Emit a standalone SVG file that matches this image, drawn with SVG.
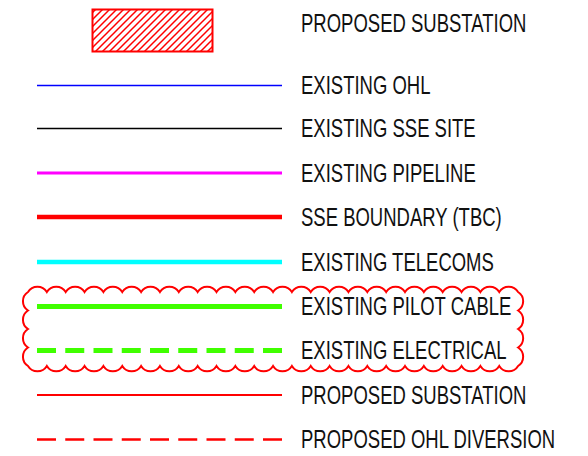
<svg xmlns="http://www.w3.org/2000/svg" width="588" height="456" viewBox="0 0 588 456">
<style>
text{font-family:"Liberation Sans",Arial,sans-serif;font-size:25px;fill:#111}
.ln{fill:none}
</style>
<defs>
<pattern id="hatch" patternUnits="userSpaceOnUse" width="7" height="7">
<path d="M0,7 L7,0 M-1.75,1.75 L1.75,-1.75 M5.25,8.75 L8.75,5.25" stroke="#ff0000" stroke-width="1.5"/>
</pattern>
</defs>
<rect width="588" height="456" fill="#fff"/>
<g id="proposed-substation-area">
<rect x="92.5" y="9.5" width="120" height="42" fill="url(#hatch)" stroke="#ff0000" stroke-width="2"/>
</g>
<g id="connectors">
<line class="ln" x1="37" y1="85.5" x2="282" y2="85.5" stroke="#0000ff" stroke-width="1.5"/>
<line class="ln" x1="37" y1="128.5" x2="282" y2="128.5" stroke="#000" stroke-width="1.5"/>
<line class="ln" x1="37" y1="173" x2="282" y2="173" stroke="#ff00ff" stroke-width="3"/>
<line class="ln" x1="37" y1="217" x2="282" y2="217" stroke="#ff0000" stroke-width="4.5"/>
<line class="ln" x1="37" y1="262" x2="282" y2="262" stroke="#00ffff" stroke-width="4.5"/>
<line class="ln" x1="37" y1="306.5" x2="282" y2="306.5" stroke="#40ff00" stroke-width="5"/>
<line class="ln" x1="37" y1="350.5" x2="282" y2="350.5" stroke="#40ff00" stroke-width="5" stroke-dasharray="19 9.25"/>
<line class="ln" x1="37" y1="395" x2="282" y2="395" stroke="#ff0000" stroke-width="2"/>
<line class="ln" x1="37" y1="439.5" x2="282" y2="439.5" stroke="#ff0000" stroke-width="2.5" stroke-dasharray="19 9.25"/>
</g>
<g id="revision-cloud">
<path class="ln" stroke="#ff0000" stroke-width="2" d="M28,292
a11,11 0 0 1 18.85,0 a11,11 0 0 1 18.85,0 a11,11 0 0 1 18.85,0 a11,11 0 0 1 18.85,0 a11,11 0 0 1 18.85,0 a11,11 0 0 1 18.85,0 a11,11 0 0 1 18.85,0 a11,11 0 0 1 18.85,0 a11,11 0 0 1 18.85,0 a11,11 0 0 1 18.85,0 a11,11 0 0 1 18.85,0 a11,11 0 0 1 18.85,0 a11,11 0 0 1 18.85,0 a11,11 0 0 1 18.85,0 a11,11 0 0 1 18.85,0 a11,11 0 0 1 18.85,0 a11,11 0 0 1 18.85,0 a11,11 0 0 1 18.85,0 a11,11 0 0 1 18.85,0 a11,11 0 0 1 18.85,0 a11,11 0 0 1 18.85,0 a11,11 0 0 1 18.85,0 a11,11 0 0 1 18.85,0 a11,11 0 0 1 18.85,0 a11,11 0 0 1 18.85,0 a11,11 0 0 1 18.85,0
a11,11 0 0 1 0,18.5 a11,11 0 0 1 0,18.5 a11,11 0 0 1 0,18.5 a11,11 0 0 1 0,18.5
a11,11 0 0 1 -18.85,0 a11,11 0 0 1 -18.85,0 a11,11 0 0 1 -18.85,0 a11,11 0 0 1 -18.85,0 a11,11 0 0 1 -18.85,0 a11,11 0 0 1 -18.85,0 a11,11 0 0 1 -18.85,0 a11,11 0 0 1 -18.85,0 a11,11 0 0 1 -18.85,0 a11,11 0 0 1 -18.85,0 a11,11 0 0 1 -18.85,0 a11,11 0 0 1 -18.85,0 a11,11 0 0 1 -18.85,0 a11,11 0 0 1 -18.85,0 a11,11 0 0 1 -18.85,0 a11,11 0 0 1 -18.85,0 a11,11 0 0 1 -18.85,0 a11,11 0 0 1 -18.85,0 a11,11 0 0 1 -18.85,0 a11,11 0 0 1 -18.85,0 a11,11 0 0 1 -18.85,0 a11,11 0 0 1 -18.85,0 a11,11 0 0 1 -18.85,0 a11,11 0 0 1 -18.85,0 a11,11 0 0 1 -18.85,0 a11,11 0 0 1 -18.85,0
a11,11 0 0 1 0,-18.5 a11,11 0 0 1 0,-18.5 a11,11 0 0 1 0,-18.5 a11,11 0 0 1 0,-18.5 Z"/>
</g>
<g id="labels">
<text transform="translate(301,32) scale(0.74,1)">PROPOSED SUBSTATION</text>
<text transform="translate(301,94) scale(0.74,1)">EXISTING OHL</text>
<text transform="translate(301,137) scale(0.74,1)">EXISTING SSE SITE</text>
<text transform="translate(301,182) scale(0.74,1)">EXISTING PIPELINE</text>
<text transform="translate(301,226) scale(0.74,1)">SSE BOUNDARY (TBC)</text>
<text transform="translate(301,271) scale(0.74,1)">EXISTING TELECOMS</text>
<text transform="translate(301,315) scale(0.74,1)">EXISTING PILOT CABLE</text>
<text transform="translate(301,359) scale(0.74,1)">EXISTING ELECTRICAL</text>
<text transform="translate(301,404) scale(0.74,1)">PROPOSED SUBSTATION</text>
<text transform="translate(301,448) scale(0.74,1)">PROPOSED OHL DIVERSION</text>
</g>
</svg>
